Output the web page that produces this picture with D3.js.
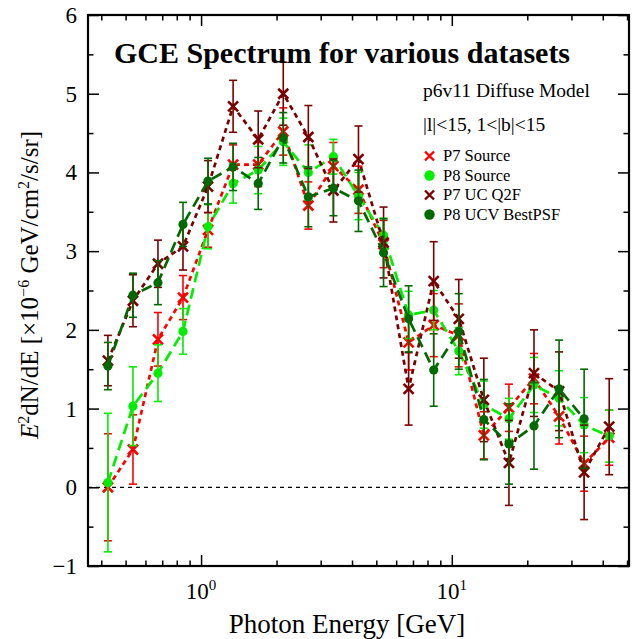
<!DOCTYPE html>
<html><head><meta charset="utf-8">
<script src="https://cdn.jsdelivr.net/npm/d3@7"></script>
<style>body{margin:0;background:#fff} svg{display:block}</style>
</head><body><svg id="c" width="644" height="639"></svg>
<script>
// ---- data ----
const energies = [0.425, 0.535, 0.673, 0.847, 1.066, 1.342, 1.69, 2.127, 2.678, 3.371, 4.244, 5.343, 6.726, 8.468, 10.66, 13.42, 16.9, 21.27, 26.78, 33.71, 42.44];

const p7Source    = [0.00, 0.48, 1.88, 2.41, 3.27, 4.10, 4.10, 4.52, 3.58, 4.08, 3.78, 3.09, 1.84, 2.06, 1.93, 0.66, 1.01, 1.38, 0.90, 0.30, 0.63];
const p7SourceErr = [0.68, 0.44, 0.34, 0.28, 0.22, 0.25, 0.28, 0.30, 0.30, 0.30, 0.30, 0.30, 0.35, 0.40, 0.40, 0.30, 0.30, 0.32, 0.35, 0.35, 0.35];

const p8Source    = [0.06, 1.03, 1.45, 1.98, 3.31, 3.86, 4.03, 4.39, 4.00, 4.20, 3.70, 3.20, 2.19, 2.25, 1.73, 1.05, 0.87, 1.30, 1.13, 0.79, 0.65];
const p8SourceErr = [0.88, 0.50, 0.36, 0.29, 0.28, 0.25, 0.30, 0.30, 0.35, 0.22, 0.30, 0.22, 0.30, 0.25, 0.30, 0.30, 0.26, 0.35, 0.35, 0.35, 0.33];

const p7UC    = [1.61, 2.37, 2.84, 3.06, 3.82, 4.84, 4.42, 5.00, 4.45, 3.77, 4.17, 3.11, 1.25, 2.62, 2.14, 1.11, 0.31, 1.45, 1.22, 0.19, 0.77];
const p7UCErr = [0.32, 0.33, 0.30, 0.30, 0.33, 0.33, 0.36, 0.40, 0.40, 0.40, 0.42, 0.45, 0.46, 0.50, 0.50, 0.53, 0.54, 0.55, 0.50, 0.60, 0.61];

const p8UCV    = [1.54, 2.44, 2.60, 3.34, 3.89, 4.07, 3.86, 4.44, 3.69, 3.80, 3.64, 2.98, 2.14, 1.49, 1.98, 0.86, 0.55, 0.78, 1.25, 0.87];
const p8UCVErr = [0.30, 0.28, 0.28, 0.28, 0.29, 0.30, 0.33, 0.32, 0.38, 0.35, 0.39, 0.43, 0.42, 0.46, 0.48, 0.51, 0.51, 0.55, 0.62, 0.63];

const seriesNames = ["P7 Source", "P8 Source", "P7 UC Q2F", "P8 UCV BestPSF"];
const yTickValues = [-1, 0, 1, 2, 3, 4, 5, 6];
const yMinorValues = [-0.5, 0.5, 1.5, 2.5, 3.5, 4.5, 5.5];
const xMajorValues = [1, 10];
const xMinorValues = [0.4, 0.5, 0.6, 0.7, 0.8, 0.9, 2, 3, 4, 5, 6, 7, 8, 9, 20, 30, 40, 50];
const xTickLabels = [{v: 1, exp: "0"}, {v: 10, exp: "1"}];
const titleText = "GCE Spectrum for various datasets";
const noteLines = ["p6v11 Diffuse Model", "|l|<15, 1<|b|<15"];

// ---- layout ----
const svg = d3.select("#c");
const L = 88, R = 629, T = 15, B = 566;
const x = d3.scaleLog().domain([0.354, 50.9]).range([L, R]);
const y = d3.scaleLinear().domain([-1, 6]).range([B, T]);
const FONT = "'Liberation Serif','Times New Roman',serif";

const series = [
  {name: seriesNames[0], vals: p7Source, err: p7SourceErr, color: "#ff0000", ebColor: "#ff0000", marker: "x", dash: "5,4"},
  {name: seriesNames[1], vals: p8Source, err: p8SourceErr, color: "#00ee00", ebColor: "#00ee00", marker: "o", dash: "11,6"},
  {name: seriesNames[2], vals: p7UC, err: p7UCErr, color: "#7a0000", ebColor: "#7a0000", marker: "x", dash: "5,4"},
  {name: seriesNames[3], vals: p8UCV, err: p8UCVErr, color: "#006a00", ebColor: "#006a00", marker: "o", dash: "11,6"}
];

// zero line
svg.append("line").attr("x1", L).attr("x2", R).attr("y1", y(0)).attr("y2", y(0))
  .attr("stroke", "#000").attr("stroke-width", 1.3).attr("stroke-dasharray", "4,4");

// series
const gS = svg.append("g");
series.forEach(s => {
  const pts = s.vals.map((v, i) => ({e: energies[i], v, err: s.err[i]}));
  const g = gS.append("g");
  pts.forEach(p => {
    g.append("line").attr("x1", x(p.e)).attr("x2", x(p.e)).attr("y1", y(p.v - p.err)).attr("y2", y(p.v + p.err))
      .attr("stroke", s.ebColor).attr("stroke-width", 1.6);
    [p.v - p.err, p.v + p.err].forEach(c => {
      g.append("line").attr("x1", x(p.e) - 4).attr("x2", x(p.e) + 4).attr("y1", y(c)).attr("y2", y(c))
        .attr("stroke", s.ebColor).attr("stroke-width", 1.6);
    });
  });
  g.append("path").datum(pts)
    .attr("d", d3.line().x(d => x(d.e)).y(d => y(d.v)))
    .attr("fill", "none").attr("stroke", s.color).attr("stroke-width", 2.7).attr("stroke-dasharray", s.dash);
  pts.forEach(p => {
    const cx = x(p.e), cy = y(p.v);
    if (s.marker === "x") {
      const r = 5;
      g.append("path").attr("d", `M${cx - r},${cy - r}L${cx + r},${cy + r}M${cx - r},${cy + r}L${cx + r},${cy - r}`)
        .attr("stroke", s.color).attr("stroke-width", 2.6).attr("fill", "none");
    } else {
      g.append("circle").attr("cx", cx).attr("cy", cy).attr("r", 4.6).attr("fill", s.color);
    }
  });
});

// axes ticks (inward)
function tidy(g) { g.select(".domain").remove(); g.selectAll("text").remove(); g.selectAll("line").attr("stroke", "#000").attr("stroke-width", 1.5); }
svg.append("g").attr("transform", `translate(0,${B})`).call(d3.axisBottom(x).tickValues(xMajorValues).tickSize(-11).tickFormat("")).call(tidy);
svg.append("g").attr("transform", `translate(0,${B})`).call(d3.axisBottom(x).tickValues(xMinorValues).tickSize(-5.5).tickFormat("")).call(tidy);
svg.append("g").attr("transform", `translate(0,${T})`).call(d3.axisTop(x).tickValues(xMajorValues).tickSize(-11).tickFormat("")).call(tidy);
svg.append("g").attr("transform", `translate(0,${T})`).call(d3.axisTop(x).tickValues(xMinorValues).tickSize(-5.5).tickFormat("")).call(tidy);
svg.append("g").attr("transform", `translate(${L},0)`).call(d3.axisLeft(y).tickValues(yTickValues).tickSize(-11).tickFormat("")).call(tidy);
svg.append("g").attr("transform", `translate(${L},0)`).call(d3.axisLeft(y).tickValues(yMinorValues).tickSize(-5.5).tickFormat("")).call(tidy);
svg.append("g").attr("transform", `translate(${R},0)`).call(d3.axisRight(y).tickValues(yTickValues).tickSize(-11).tickFormat("")).call(tidy);
svg.append("g").attr("transform", `translate(${R},0)`).call(d3.axisRight(y).tickValues(yMinorValues).tickSize(-5.5).tickFormat("")).call(tidy);

// frame
svg.append("rect").attr("x", L).attr("y", T).attr("width", R - L).attr("height", B - T)
  .attr("fill", "none").attr("stroke", "#000").attr("stroke-width", 2.2);

// y tick labels
svg.append("g").selectAll("text").data(yTickValues).join("text")
  .attr("x", L - 11).attr("y", d => y(d)).attr("dy", "0.35em")
  .attr("text-anchor", "end").attr("font-family", FONT).attr("font-size", 23)
  .text(d => d < 0 ? "\u2212" + Math.abs(d) : d);

// x tick labels 10^n
xTickLabels.forEach(t => {
  const tx = svg.append("text").attr("x", x(t.v)).attr("y", 599).attr("text-anchor", "middle")
    .attr("font-family", FONT).attr("font-size", 23);
  tx.append("tspan").text("10");
  tx.append("tspan").attr("dy", -9).attr("font-size", 15).text(t.exp);
});

// axis titles
svg.append("text").attr("x", 347).attr("y", 633).attr("text-anchor", "middle")
  .attr("font-family", FONT).attr("font-size", 27).text("Photon Energy [GeV]");

const yl = svg.append("text").attr("transform", "translate(38,285) rotate(-90)").attr("text-anchor", "middle")
  .attr("font-family", FONT).attr("font-size", 25);
yl.append("tspan").attr("font-style", "italic").text("E");
yl.append("tspan").attr("dy", -9).attr("font-size", 16).text("2");
yl.append("tspan").attr("dy", 9).text("dN/dE [\u00d710");
yl.append("tspan").attr("dy", -9).attr("font-size", 16).text("\u22126");
yl.append("tspan").attr("dy", 9).text(" GeV/cm");
yl.append("tspan").attr("dy", -9).attr("font-size", 16).text("2");
yl.append("tspan").attr("dy", 9).text("/s/sr]");

// title
svg.append("text").attr("x", 342).attr("y", 63).attr("text-anchor", "middle")
  .attr("font-family", FONT).attr("font-weight", "bold").attr("font-size", 30).text(titleText);

// notes
noteLines.forEach((t, i) => {
  svg.append("text").attr("x", 423).attr("y", 97 + i * 34).attr("font-family", FONT).attr("font-size", 19.5).text(t);
});

// legend
const lg = svg.append("g");
series.forEach((s, i) => {
  const cy = 156 + i * 19.5;
  if (s.marker === "x") {
    const r = 4.5, cx = 429.5;
    lg.append("path").attr("d", `M${cx - r},${cy - r}L${cx + r},${cy + r}M${cx - r},${cy + r}L${cx + r},${cy - r}`)
      .attr("stroke", s.color).attr("stroke-width", 2.4);
  } else {
    lg.append("circle").attr("cx", 429.5).attr("cy", cy).attr("r", 5.2).attr("fill", s.color);
  }
  lg.append("text").attr("x", 443).attr("y", cy + 5).attr("font-family", FONT).attr("font-size", 16.5).text(s.name);
});
</script></body></html>
